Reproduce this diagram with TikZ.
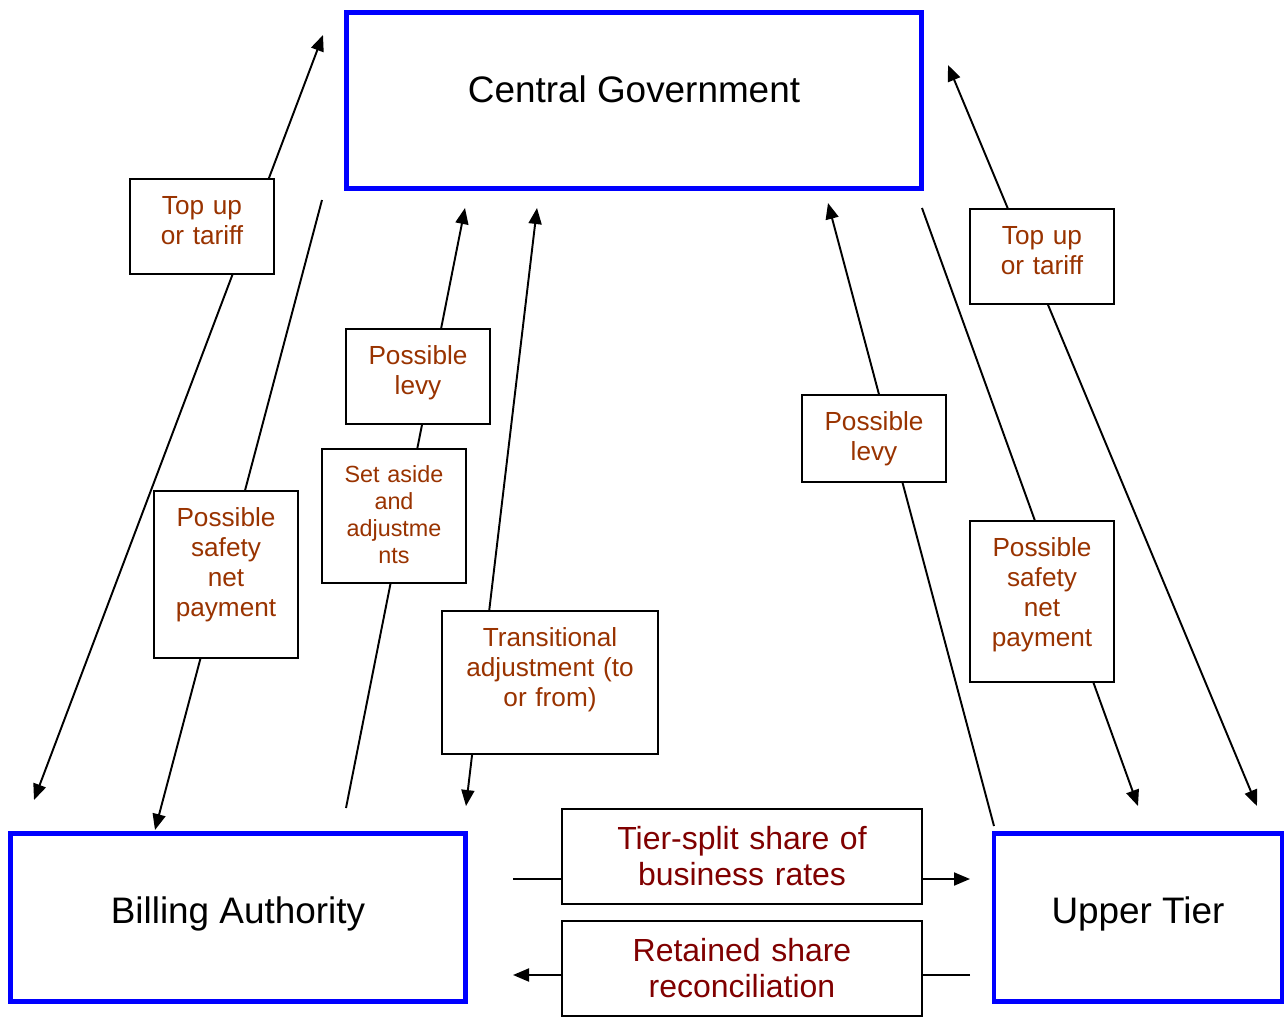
\documentclass[tikz,border=0pt]{standalone}
\usepackage{fontspec}
\setmainfont{Liberation Sans}
\usepackage{xcolor}
\usepackage{tikz}
\usetikzlibrary{arrows.meta,backgrounds}

\definecolor{labelbrown}{RGB}{153,51,0}
\definecolor{flowred}{RGB}{128,0,0}

\begin{document}
\begin{tikzpicture}[x=0.02cm, y=-0.02cm, >={Triangle[length=0.32cm,width=0.26cm]},
  govbox/.style={draw=blue, line width=2.8pt, fill=white, anchor=north, inner sep=0pt,
    font=\fontsize{21}{25}\selectfont, text height=1.8cm},
  lblbox/.style={draw, line width=1.2pt, fill=white, anchor=north, inner sep=0pt,
    align=center, text=labelbrown, font=\fontsize{14.9}{17.1}\selectfont,
    text width=2.88cm, text height=0.7cm},
  flowbox/.style={lblbox, text=flowred, font=\fontsize{18.2}{20.8}\selectfont,
    text width=7.2cm, text height=0.8cm, text depth=1.1cm},
  link/.style={line width=1.1pt}]

\useasboundingbox (0,0) rectangle (1286,1022);

% Tiers of government
\node[govbox, minimum width=11.52cm, text depth=1.72cm] (central) at (634,10) {Central Government};
\node[govbox, minimum width=9.12cm, text depth=1.56cm] (billing) at (238,831) {Billing Authority};
\node[govbox, minimum width=5.76cm, text depth=1.56cm] (upper) at (1138,831) {Upper Tier};

% Payment labels, billing side
\node[lblbox, text depth=1.2cm] (topupL) at (202,178) {Top up\\or tariff};
\node[lblbox, text depth=2.64cm] (safetyL) at (226,490) {Possible\\safety\\net\\payment};
\node[lblbox, text depth=1.2cm] (levyL) at (418,328) {Possible\\levy};
\node[lblbox, font=\fontsize{13.3}{15.5}\selectfont, text height=0.66cm, text depth=2.02cm] (setaside) at (394,448) {Set aside\\and\\adjustme\\nts};
\node[lblbox, text width=4.32cm, text depth=2.16cm] (transit) at (550,610) {Transitional\\adjustment (to\\or from)};

% Payment labels, upper tier side
\node[lblbox, text depth=1.04cm] (levyR) at (874,394) {Possible\\levy};
\node[lblbox, text depth=1.2cm] (topupR) at (1042,208) {Top up\\or tariff};
\node[lblbox, text depth=2.52cm] (safetyR) at (1042,520) {Possible\\safety\\net\\payment};

% Flows between the two tiers
\node[flowbox] (tiersplit) at (742,808) {Tier-split share of\\business rates};
\node[flowbox] (retained) at (742,920) {Retained share\\reconciliation};

% Ends of the connectors
\coordinate (topupL-lo) at (34,800);
\coordinate (topupL-hi) at (323,35);
\coordinate (safetyL-hi) at (322,200);
\coordinate (safetyL-lo) at (155,830);
\coordinate (levyL-lo) at (346,808);
\coordinate (levyL-hi) at (465,208);
\coordinate (transit-hi) at (537,208);
\coordinate (transit-lo) at (466,806);
\coordinate (levyR-lo) at (994,826);
\coordinate (levyR-hi) at (828,203);
\coordinate (safetyR-hi) at (922,208);
\coordinate (safetyR-lo) at (1138,806);
\coordinate (topupR-hi) at (948,65);
\coordinate (topupR-lo) at (1257,806);
\coordinate (split-from) at (513,879);
\coordinate (split-to) at (970,879);
\coordinate (retain-from) at (970,975);
\coordinate (retain-to) at (513,975);

\begin{scope}[on background layer]
\draw[link, <->] (topupL-lo) -- (topupL-hi);
\draw[link, ->] (safetyL-hi) -- (safetyL-lo);
\draw[link, ->] (levyL-lo) -- (levyL-hi);
\draw[link, <->] (transit-hi) -- (transit-lo);
\draw[link, ->] (levyR-lo) -- (levyR-hi);
\draw[link, ->] (safetyR-hi) -- (safetyR-lo);
\draw[link, <->] (topupR-hi) -- (topupR-lo);
\draw[link, ->] (split-from) -- (split-to);
\draw[link, ->] (retain-from) -- (retain-to);
\end{scope}

\end{tikzpicture}
\end{document}
